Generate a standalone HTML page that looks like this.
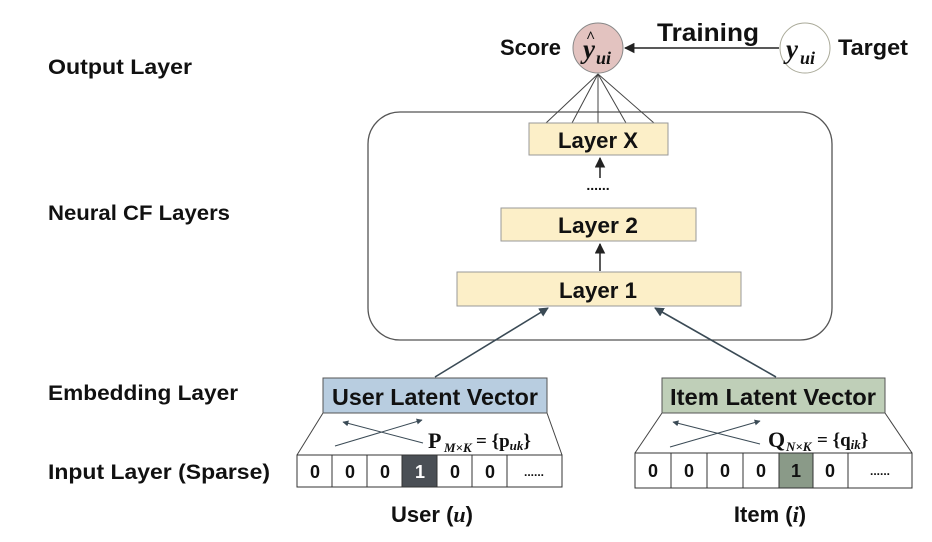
<!DOCTYPE html>
<html><head><meta charset="utf-8"><style>
html,body{margin:0;padding:0;background:#fff;}
svg{display:block;}
text{font-family:"Liberation Sans",sans-serif;font-weight:bold;fill:#111;}
.m{font-family:"Liberation Serif",serif;}
</style></head><body>
<svg width="932" height="542" viewBox="0 0 932 542" xmlns="http://www.w3.org/2000/svg">
<defs>
<marker id="a" viewBox="0 0 10 10" refX="9" refY="5" markerWidth="7" markerHeight="7" orient="auto-start-reverse"><path d="M0,0 L10,5 L0,10 z" fill="#222"/></marker>
<marker id="b" viewBox="0 0 10 10" refX="9" refY="5" markerWidth="6" markerHeight="6" orient="auto-start-reverse"><path d="M0,0 L10,5 L0,10 z" fill="#3a4a55"/></marker>
</defs>
<g font-size="21">
<text x="48" y="74" textLength="144" lengthAdjust="spacingAndGlyphs">Output Layer</text>
<text x="48" y="220" textLength="182" lengthAdjust="spacingAndGlyphs">Neural CF Layers</text>
<text x="48" y="400" textLength="190" lengthAdjust="spacingAndGlyphs">Embedding Layer</text>
<text x="48" y="479" textLength="222" lengthAdjust="spacingAndGlyphs">Input Layer (Sparse)</text>
</g>

<rect x="368" y="112" width="464" height="228" rx="32" fill="none" stroke="#555" stroke-width="1.3"/>

<g stroke="#444" stroke-width="1">
<line x1="598" y1="74" x2="546" y2="123"/>
<line x1="598" y1="74" x2="572" y2="123"/>
<line x1="598" y1="74" x2="598" y2="123"/>
<line x1="598" y1="74" x2="626" y2="123"/>
<line x1="598" y1="74" x2="654" y2="123"/>
</g>
<circle cx="598" cy="48" r="25" fill="#e3c3c0" stroke="#888" stroke-width="1"/>
<text x="583" y="58" font-size="27" class="m" font-style="italic">y</text>
<text x="586" y="42" font-size="16" class="m">^</text>
<text x="596" y="64" font-size="18" class="m" font-style="italic">ui</text>
<circle cx="805" cy="48" r="25" fill="#fff" stroke="#aa9" stroke-width="1"/>
<text x="786" y="58" font-size="27" class="m" font-style="italic" font-weight="normal">y</text>
<text x="800" y="64" font-size="18" class="m" font-style="italic">ui</text>
<line x1="779" y1="48" x2="625" y2="48" stroke="#222" stroke-width="1.5" marker-end="url(#a)"/>
<text x="500" y="55" font-size="22" textLength="61" lengthAdjust="spacingAndGlyphs">Score</text>
<text x="657" y="41" font-size="25" textLength="102" lengthAdjust="spacingAndGlyphs">Training</text>
<text x="838" y="55" font-size="22" textLength="70" lengthAdjust="spacingAndGlyphs">Target</text>

<rect x="529" y="123" width="139" height="32" fill="#fcefc8" stroke="#999"/>
<text x="598" y="148" font-size="22" text-anchor="middle" textLength="80" lengthAdjust="spacingAndGlyphs">Layer X</text>
<text x="598" y="190" font-size="14" text-anchor="middle">......</text>
<line x1="600" y1="178" x2="600" y2="158" stroke="#222" stroke-width="1.5" marker-end="url(#a)"/>
<rect x="501" y="208" width="195" height="33" fill="#fcefc8" stroke="#999"/>
<text x="598" y="233" font-size="22" text-anchor="middle" textLength="80" lengthAdjust="spacingAndGlyphs">Layer 2</text>
<rect x="457" y="272" width="284" height="34" fill="#fcefc8" stroke="#999"/>
<text x="598" y="298" font-size="22" text-anchor="middle" textLength="78" lengthAdjust="spacingAndGlyphs">Layer 1</text>
<line x1="600" y1="271" x2="600" y2="244" stroke="#222" stroke-width="1.5" marker-end="url(#a)"/>

<line x1="435" y1="377" x2="548" y2="308" stroke="#3a4a55" stroke-width="1.6" marker-end="url(#b)"/>
<line x1="776" y1="377" x2="655" y2="308" stroke="#3a4a55" stroke-width="1.6" marker-end="url(#b)"/>

<polyline points="297,455 323,413 547,413 562,455" fill="none" stroke="#444" stroke-width="1"/>
<rect x="323" y="378" width="224" height="35" fill="#b8cde0" stroke="#555"/>
<text x="435" y="405" font-size="23" text-anchor="middle" textLength="206" lengthAdjust="spacingAndGlyphs">User Latent Vector</text>
<line x1="335" y1="446" x2="422" y2="420" stroke="#3a4a55" stroke-width="1" marker-end="url(#b)"/>
<line x1="423" y1="443" x2="343" y2="422" stroke="#3a4a55" stroke-width="1" marker-end="url(#b)"/>
<text x="428" y="448" font-size="22" class="m">P</text>
<text x="444" y="452" font-size="13" class="m" font-style="italic" font-weight="normal">M×K</text>
<text x="476" y="447" font-size="19" class="m" font-weight="normal">= {<tspan font-weight="bold">p</tspan><tspan font-size="13" font-style="italic" dy="3">uk</tspan><tspan dy="-3">}</tspan></text>
<g stroke="#333" stroke-width="1" fill="#fff">
<rect x="297" y="455" width="265" height="32"/>
<line x1="332" y1="455" x2="332" y2="487"/><line x1="367" y1="455" x2="367" y2="487"/>
<line x1="437" y1="455" x2="437" y2="487"/><line x1="472" y1="455" x2="472" y2="487"/><line x1="507" y1="455" x2="507" y2="487"/>
<rect x="402" y="455" width="35" height="32" fill="#4a4f55"/>
</g>
<g font-size="18" text-anchor="middle">
<text x="315" y="478" font-weight="normal">0</text><text x="350" y="478" font-weight="normal">0</text><text x="385" y="478" font-weight="normal">0</text>
<text x="420" y="478" style="fill:#fff">1</text>
<text x="455" y="478" font-weight="normal">0</text><text x="490" y="478" font-weight="normal">0</text>
<text x="534" y="476" font-weight="normal" font-size="12">......</text>
</g>
<text x="432" y="522" font-size="22" text-anchor="middle">User (<tspan class="m" font-style="italic">u</tspan>)</text>

<polyline points="635,453 662,413 885,413 912,453" fill="none" stroke="#444" stroke-width="1"/>
<rect x="662" y="378" width="223" height="35" fill="#bfcfb8" stroke="#555"/>
<text x="773" y="405" font-size="23" text-anchor="middle" textLength="206" lengthAdjust="spacingAndGlyphs">Item Latent Vector</text>
<line x1="670" y1="447" x2="760" y2="421" stroke="#3a4a55" stroke-width="1" marker-end="url(#b)"/>
<line x1="760" y1="444" x2="673" y2="422" stroke="#3a4a55" stroke-width="1" marker-end="url(#b)"/>
<text x="768" y="447" font-size="22" class="m">Q</text>
<text x="786" y="451" font-size="13" class="m" font-style="italic" font-weight="normal">N×K</text>
<text x="817" y="446" font-size="19" class="m" font-weight="normal">= {<tspan font-weight="bold">q</tspan><tspan font-size="13" font-style="italic" dy="3">ik</tspan><tspan dy="-3">}</tspan></text>
<g stroke="#333" stroke-width="1" fill="#fff">
<rect x="635" y="453" width="277" height="35"/>
<line x1="671" y1="453" x2="671" y2="488"/><line x1="707" y1="453" x2="707" y2="488"/><line x1="743" y1="453" x2="743" y2="488"/>
<line x1="848" y1="453" x2="848" y2="488"/>
<rect x="779" y="453" width="34" height="35" fill="#8a9a88"/>
</g>
<g font-size="18" text-anchor="middle">
<text x="653" y="477" font-weight="normal">0</text><text x="689" y="477" font-weight="normal">0</text><text x="725" y="477" font-weight="normal">0</text><text x="761" y="477" font-weight="normal">0</text>
<text x="796" y="477">1</text>
<text x="830" y="477" font-weight="normal">0</text>
<text x="880" y="475" font-weight="normal" font-size="12">......</text>
</g>
<text x="770" y="522" font-size="22" text-anchor="middle">Item (<tspan class="m" font-style="italic">i</tspan>)</text>
</svg>
</body></html>
